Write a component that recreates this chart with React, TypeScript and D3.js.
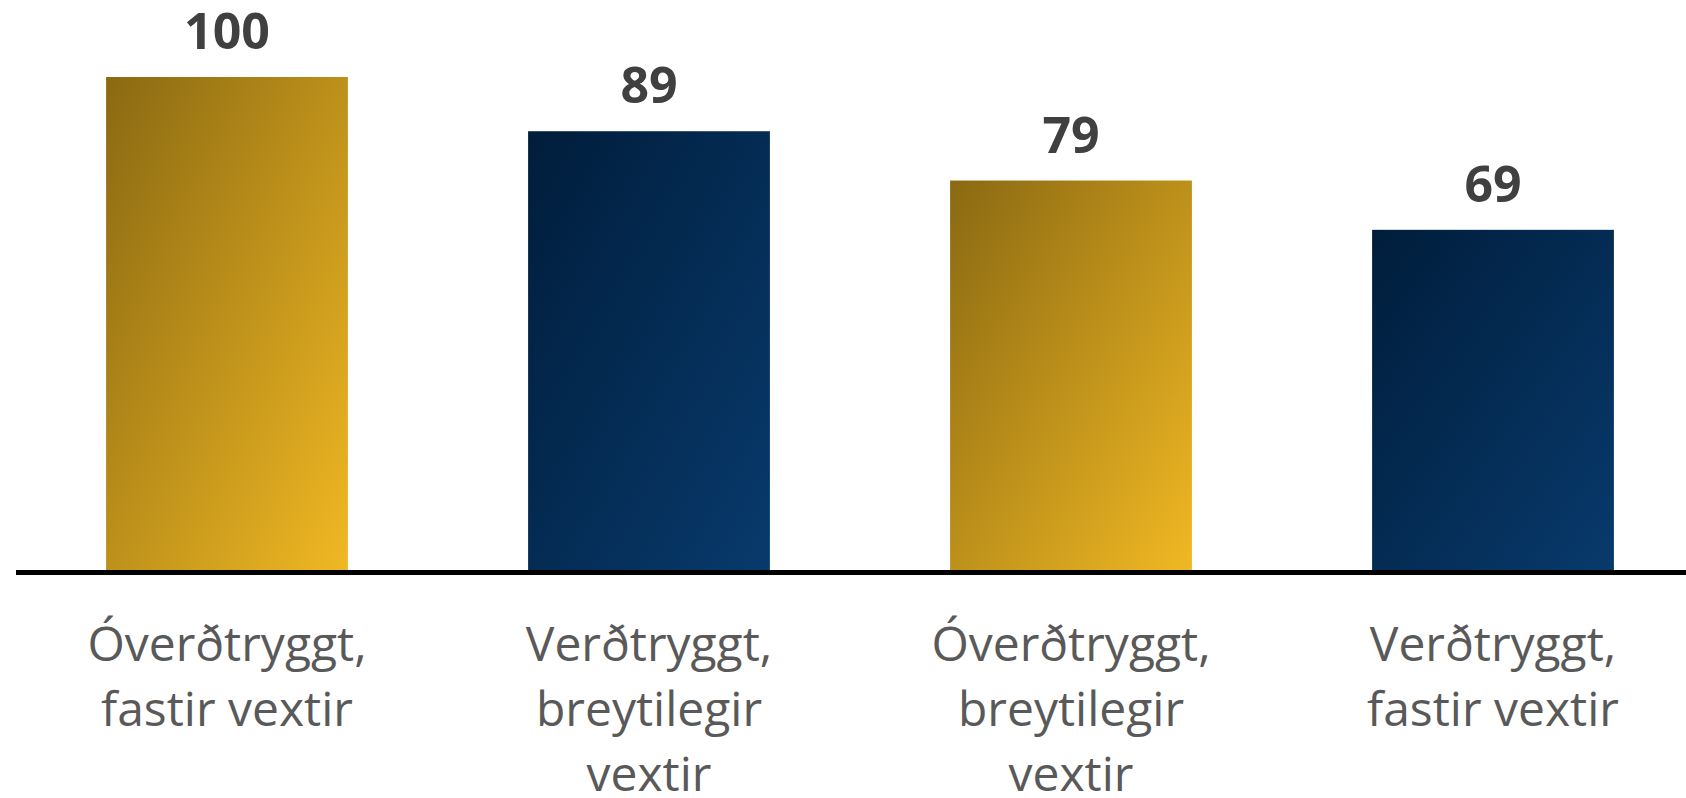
import React from "react";
import * as d3 from "d3";

const categories: string[][] = [
  ["Óverðtryggt,", "fastir vextir"],
  ["Verðtryggt,", "breytilegir", "vextir"],
  ["Óverðtryggt,", "breytilegir", "vextir"],
  ["Verðtryggt,", "fastir vextir"],
];
const values: number[] = [100, 89, 79, 69];
const valueLabels: string[] = ["100", "89", "79", "69"];
const seriesKind: string[] = ["gold", "blue", "gold", "blue"];

const W = 1686;
const H = 798;

export default function App() {
  const keys = categories.map((_, i) => String(i));
  const x = d3.scaleBand<string>().domain(keys).range([16, 1704]).paddingInner(0.427).paddingOuter(0.2135);
  const y = d3.scaleLinear().domain([0, 100]).range([570, 77]);
  const baseY = y(0);

  return (
    <svg width={W} height={H} style={{ position: "absolute", left: 0, top: 0, display: "block" }}>
      <defs>
        <linearGradient id="gold" x1="0" y1="0" x2="1" y2="1">
          <stop offset="0%" stopColor="#8a6912" />
          <stop offset="100%" stopColor="#f0b823" />
        </linearGradient>
        <linearGradient id="blue" x1="0" y1="0" x2="1" y2="1">
          <stop offset="0%" stopColor="#001d3b" />
          <stop offset="100%" stopColor="#083a6c" />
        </linearGradient>
      </defs>
      <rect width={W} height={H} fill="#ffffff" />
      {values.map((v, i) => {
        const bx = x(String(i))!;
        const bw = x.bandwidth();
        const top = y(v);
        return (
          <g key={i}>
            <rect x={bx} y={top} width={bw} height={baseY - top} fill={`url(#${seriesKind[i]})`} />
            <text
              x={bx + bw / 2}
              y={top - 28}
              textAnchor="middle"
              fontFamily="'Open Sans', sans-serif"
              fontWeight="bold"
              fontSize={50}
              fill="#404040"
            >
              {valueLabels[i]}
            </text>
            {categories[i].map((line, j) => (
              <text
                key={j}
                x={bx + bw / 2}
                y={661 + j * 65}
                textAnchor="middle"
                fontFamily="'Open Sans', sans-serif"
                fontSize={48}
                fill="#595959"
              >
                {line}
              </text>
            ))}
          </g>
        );
      })}
      <line x1={16} x2={W} y1={baseY + 2.5} y2={baseY + 2.5} stroke="#000000" strokeWidth={5} />
    </svg>
  );
}
